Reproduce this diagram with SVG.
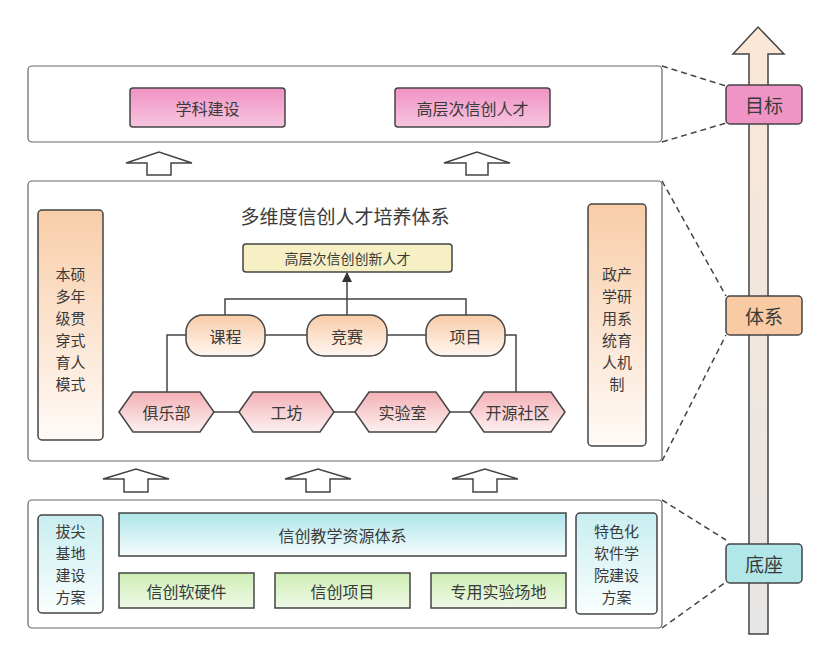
<svg xmlns="http://www.w3.org/2000/svg" width="830" height="662" viewBox="0 0 830 662">
<defs>
<linearGradient id="gPink" x1="0" y1="0" x2="0" y2="1"><stop offset="0" stop-color="#f092c3"/><stop offset="1" stop-color="#f8c6e0"/></linearGradient>
<linearGradient id="gPeach" x1="0" y1="0" x2="0" y2="1"><stop offset="0" stop-color="#f8cda8"/><stop offset="1" stop-color="#fffaf7"/></linearGradient>
<linearGradient id="gPill" x1="0" y1="0" x2="0" y2="1"><stop offset="0" stop-color="#f8cca8"/><stop offset="1" stop-color="#fff6f0"/></linearGradient>
<linearGradient id="gHex" x1="0" y1="0" x2="0" y2="1"><stop offset="0" stop-color="#f3b0b5"/><stop offset="1" stop-color="#fdf1f1"/></linearGradient>
<linearGradient id="gCyan" x1="0" y1="0" x2="0" y2="1"><stop offset="0" stop-color="#ade6ea"/><stop offset="1" stop-color="#f7fdfd"/></linearGradient>
<linearGradient id="gCyanSide" x1="0" y1="0" x2="0" y2="1"><stop offset="0" stop-color="#c8eef0"/><stop offset="1" stop-color="#fbfefe"/></linearGradient>
<linearGradient id="gGreen" x1="0" y1="0" x2="0" y2="1"><stop offset="0" stop-color="#cdeeb4"/><stop offset="1" stop-color="#eff9e7"/></linearGradient>
<linearGradient id="gShaft" x1="0" y1="0" x2="0" y2="1"><stop offset="0" stop-color="#fbe7d6"/><stop offset="1" stop-color="#e6e6e6"/></linearGradient>
<marker id="ah" viewBox="0 0 10 10" refX="9" refY="5" markerWidth="10" markerHeight="12" markerUnits="userSpaceOnUse" orient="auto"><path d="M0,0 L10,5 L0,10 z" fill="#333"/></marker>
</defs>
<style>
.panel{fill:#fff;stroke:#666;stroke-width:1.2}
.box{stroke:#444;stroke-width:1.5}
.t{font-family:"Noto Sans CJK SC","Noto Sans",sans-serif;fill:#3a3a3a;text-anchor:middle;dominant-baseline:central}
.m{font-family:"Noto Sans CJK SC","Noto Sans",sans-serif;fill:#3a3a3a;text-anchor:middle;font-size:15px}
.f16{font-size:16px}
.f14{font-size:14px}
.line{fill:none;stroke:#444;stroke-width:1.5}
.dash{fill:none;stroke:#444;stroke-width:1.5;stroke-dasharray:6,4}
.hollow{fill:#fff;stroke:#444;stroke-width:1.5;stroke-linejoin:miter}
</style>
<rect width="830" height="662" fill="#fff"/>

<!-- right axis arrow -->
<g id="axis">
<path d="M749,54 L733,54 L758,27 L784,54 L768,54 L768,634 L749,634 Z" fill="url(#gShaft)" stroke="#444" stroke-width="1.5"/>
</g>

<!-- panels -->
<g id="panel-top"><rect class="panel" x="28" y="66" width="634" height="76" rx="4"/></g>
<g id="panel-mid"><rect class="panel" x="28" y="181" width="634" height="280" rx="4"/></g>
<g id="panel-bottom"><rect class="panel" x="28" y="500" width="634" height="128" rx="4"/></g>

<g id="connectors">
<path class="dash" d="M662,66 L726,86"/>
<path class="dash" d="M662,142 L726,123"/>
<path class="dash" d="M662,181 L726,296"/>
<path class="dash" d="M662,461 L726,335"/>
<path class="dash" d="M662,500 L726,540"/>
<path class="dash" d="M662,628 L726,582"/>
<path class="line" d="M347,315 L347,273" marker-end="url(#ah)"/>
<path class="line" d="M225,315 L225,299 L466,299 L466,315"/>
<path class="line" d="M265,335 L307,335"/>
<path class="line" d="M387,335 L426,335"/>
<path class="line" d="M186,335 L167,335 L167,392"/>
<path class="line" d="M505,335 L516,335 L516,392"/>
<path class="line" d="M214,412 L239,412"/>
<path class="line" d="M334,412 L355,412"/>
<path class="line" d="M450,412 L470,412"/>
<path class="hollow" d="M147,175 L147,163 L126,163 L159,152 L192,163 L171,163 L171,175 Z"/>
<path class="hollow" d="M466,175 L466,163 L444,163 L477,152 L510,163 L488,163 L488,175 Z"/>
<path class="hollow" d="M124,492 L124,479 L103,479 L136,469 L169,479 L148,479 L148,492 Z"/>
<path class="hollow" d="M306,492 L306,479 L285,479 L318,469 L351,479 L330,479 L330,492 Z"/>
<path class="hollow" d="M473,492 L473,479 L452,479 L485,469 L518,479 L497,479 L497,492 Z"/>
</g>

<!-- axis labels -->
<g id="goal"><rect class="box" x="726" y="85" width="76" height="39" rx="4" fill="#f094c5"/><text class="t" x="764" y="104.5" font-size="19">目标</text></g>
<g id="system"><rect class="box" x="726" y="296" width="76" height="39" rx="4" fill="#f8cba4"/><text class="t" x="764" y="315.5" font-size="19">体系</text></g>
<g id="base"><rect class="box" x="726" y="544" width="76" height="39" rx="4" fill="#b1e7e9"/><text class="t" x="764" y="563.5" font-size="19">底座</text></g>

<!-- top -->
<g id="xueke"><rect class="box" x="130" y="88" width="155" height="39" rx="3" fill="url(#gPink)"/><text class="t f16" x="207.5" y="107.5">学科建设</text></g>
<g id="rencai"><rect class="box" x="395" y="88" width="155" height="39" rx="3" fill="url(#gPink)"/><text class="t f16" x="472.5" y="107.5">高层次信创人才</text></g>

<!-- middle -->
<g id="title"><text class="t" x="345" y="215" font-size="19">多维度信创人才培养体系</text></g>
<g id="benshuo"><rect class="box" x="38" y="210" width="65" height="230" rx="4" fill="url(#gPeach)"/>
<text class="m" x="70.5" y="280.2"><tspan x="70.5">本硕</tspan><tspan x="70.5" dy="22">多年</tspan><tspan x="70.5" dy="22">级贯</tspan><tspan x="70.5" dy="22">穿式</tspan><tspan x="70.5" dy="22">育人</tspan><tspan x="70.5" dy="22">模式</tspan></text></g>
<g id="zhengchan"><rect class="box" x="588" y="204" width="58" height="242" rx="4" fill="url(#gPeach)"/>
<text class="m" x="617" y="280.2"><tspan x="617">政产</tspan><tspan x="617" dy="22">学研</tspan><tspan x="617" dy="22">用系</tspan><tspan x="617" dy="22">统育</tspan><tspan x="617" dy="22">人机</tspan><tspan x="617" dy="22">制</tspan></text></g>
<g id="gaoceng"><rect class="box" x="243" y="244" width="209" height="28" rx="3" fill="#f6f0c4"/><text class="t f14" x="347.5" y="258">高层次信创创新人才</text></g>
<g id="kecheng"><rect class="box" x="186" y="315" width="79" height="41" rx="17" fill="url(#gPill)"/><text class="t f16" x="225.5" y="335.5">课程</text></g>
<g id="jingsai"><rect class="box" x="307" y="315" width="80" height="41" rx="17" fill="url(#gPill)"/><text class="t f16" x="347" y="335.5">竞赛</text></g>
<g id="xiangmu"><rect class="box" x="426" y="315" width="79" height="41" rx="17" fill="url(#gPill)"/><text class="t f16" x="465.5" y="335.5">项目</text></g>
<g id="julebu"><path class="box" d="M119,412 L133,392 L200,392 L214,412 L200,432 L133,432 Z" fill="url(#gHex)"/><text class="t f16" x="166.5" y="412">俱乐部</text></g>
<g id="gongfang"><path class="box" d="M239,412 L253,392 L320,392 L334,412 L320,432 L253,432 Z" fill="url(#gHex)"/><text class="t f16" x="286.5" y="412">工坊</text></g>
<g id="shiyanshi"><path class="box" d="M355,412 L369,392 L436,392 L450,412 L436,432 L369,432 Z" fill="url(#gHex)"/><text class="t f16" x="402.5" y="412">实验室</text></g>
<g id="kaiyuan"><path class="box" d="M470,412 L484,392 L551,392 L565,412 L551,432 L484,432 Z" fill="url(#gHex)"/><text class="t f16" x="517.5" y="412">开源社区</text></g>

<!-- bottom -->
<g id="bajian"><rect class="box" x="38" y="515" width="65" height="98" rx="4" fill="url(#gCyanSide)"/>
<text class="m" x="70.5" y="536.7"><tspan x="70.5">拔尖</tspan><tspan x="70.5" dy="22">基地</tspan><tspan x="70.5" dy="22">建设</tspan><tspan x="70.5" dy="22">方案</tspan></text></g>
<g id="ziyuan"><rect class="box" x="119" y="513" width="447" height="43" fill="url(#gCyan)"/><text class="t f16" x="342.5" y="535">信创教学资源体系</text></g>
<g id="ruanyingjian"><rect class="box" x="119" y="573" width="135" height="35" fill="url(#gGreen)"/><text class="t f16" x="186.5" y="591">信创软硬件</text></g>
<g id="chuangxiangmu"><rect class="box" x="275" y="573" width="135" height="35" fill="url(#gGreen)"/><text class="t f16" x="342.5" y="591">信创项目</text></g>
<g id="changdi"><rect class="box" x="431" y="573" width="135" height="35" fill="url(#gGreen)"/><text class="t f16" x="498.5" y="591">专用实验场地</text></g>
<g id="tese"><rect class="box" x="576" y="513" width="81" height="101" rx="4" fill="url(#gCyanSide)"/>
<text class="m" x="616.5" y="536.5"><tspan x="616.5">特色化</tspan><tspan x="616.5" dy="22">软件学</tspan><tspan x="616.5" dy="22">院建设</tspan><tspan x="616.5" dy="22">方案</tspan></text></g>
</svg>
